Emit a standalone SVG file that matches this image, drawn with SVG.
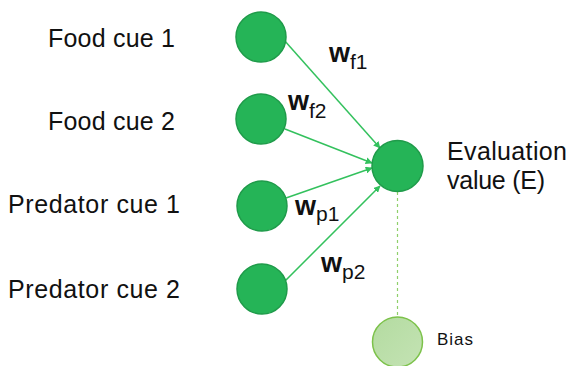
<svg xmlns="http://www.w3.org/2000/svg" width="569" height="366" viewBox="0 0 569 366">
<style>
.node{fill:#25b457;stroke:#1f9b4a;stroke-width:1.5}
.lbl{font-family:"Liberation Sans",Arial,sans-serif;font-size:25px;fill:#111}
.w{font-family:"Liberation Sans",Arial,sans-serif;font-size:27px;font-weight:bold;fill:#111}
.sub{font-family:"Liberation Sans",Arial,sans-serif;font-size:21px;font-weight:normal;fill:#111}
.edge{stroke:#33c15d;stroke-width:1.5;fill:none;marker-end:url(#ah)}
</style>
<defs>
<marker id="ah" viewBox="0 0 10 10" refX="9" refY="5" markerWidth="7" markerHeight="7" markerUnits="userSpaceOnUse" orient="auto">
<path d="M0,0 L10,5 L0,10 z" fill="#33c15d"/>
</marker>
<linearGradient id="bg" x1="0" y1="0" x2="1" y2="1">
<stop offset="0" stop-color="#b3dba0"/>
<stop offset="1" stop-color="#c4e3b4"/>
</linearGradient>
</defs>
<g id="connectors">
<line class="edge" x1="284" y1="40" x2="380" y2="148"/>
<line class="edge" x1="285" y1="129" x2="372" y2="163"/>
<line class="edge" x1="286" y1="198" x2="372" y2="168"/>
<line class="edge" x1="282" y1="284" x2="380" y2="186"/>
<line x1="397.5" y1="192" x2="397.5" y2="317" stroke="#8fd06a" stroke-width="1.2" stroke-dasharray="3,3"/>
</g>
<g id="food1"><circle class="node" cx="261" cy="37" r="25"/><text class="lbl" x="48" y="47" textLength="127">Food cue 1</text></g>
<g id="food2"><circle class="node" cx="261" cy="119" r="25"/><text class="lbl" x="48" y="130" textLength="127">Food cue 2</text></g>
<g id="pred1"><circle class="node" cx="262" cy="206" r="25"/><text class="lbl" x="8" y="213" textLength="172">Predator cue 1</text></g>
<g id="pred2"><circle class="node" cx="262" cy="289" r="25"/><text class="lbl" x="8" y="298" textLength="172">Predator cue 2</text></g>
<g id="eval"><circle class="node" cx="397.5" cy="166" r="25.5"/>
<text class="lbl" x="447" y="160" textLength="120">Evaluation</text>
<text class="lbl" x="447" y="189" textLength="98">value (E)</text></g>
<g id="bias"><circle cx="397.5" cy="342" r="25" fill="url(#bg)" stroke="#7cc24a" stroke-width="1.5"/>
<text x="437" y="345" font-family="'Liberation Sans',Arial,sans-serif" font-size="17" fill="#111" textLength="36">Bias</text></g>
<g id="weights">
<text class="w" x="329" y="62">w<tspan class="sub" dy="7">f1</tspan></text>
<text class="w" x="288" y="110">w<tspan class="sub" dy="8">f2</tspan></text>
<text class="w" x="295" y="215">w<tspan class="sub" dy="6">p1</tspan></text>
<text class="w" x="321" y="272">w<tspan class="sub" dy="7">p2</tspan></text>
</g>
</svg>
